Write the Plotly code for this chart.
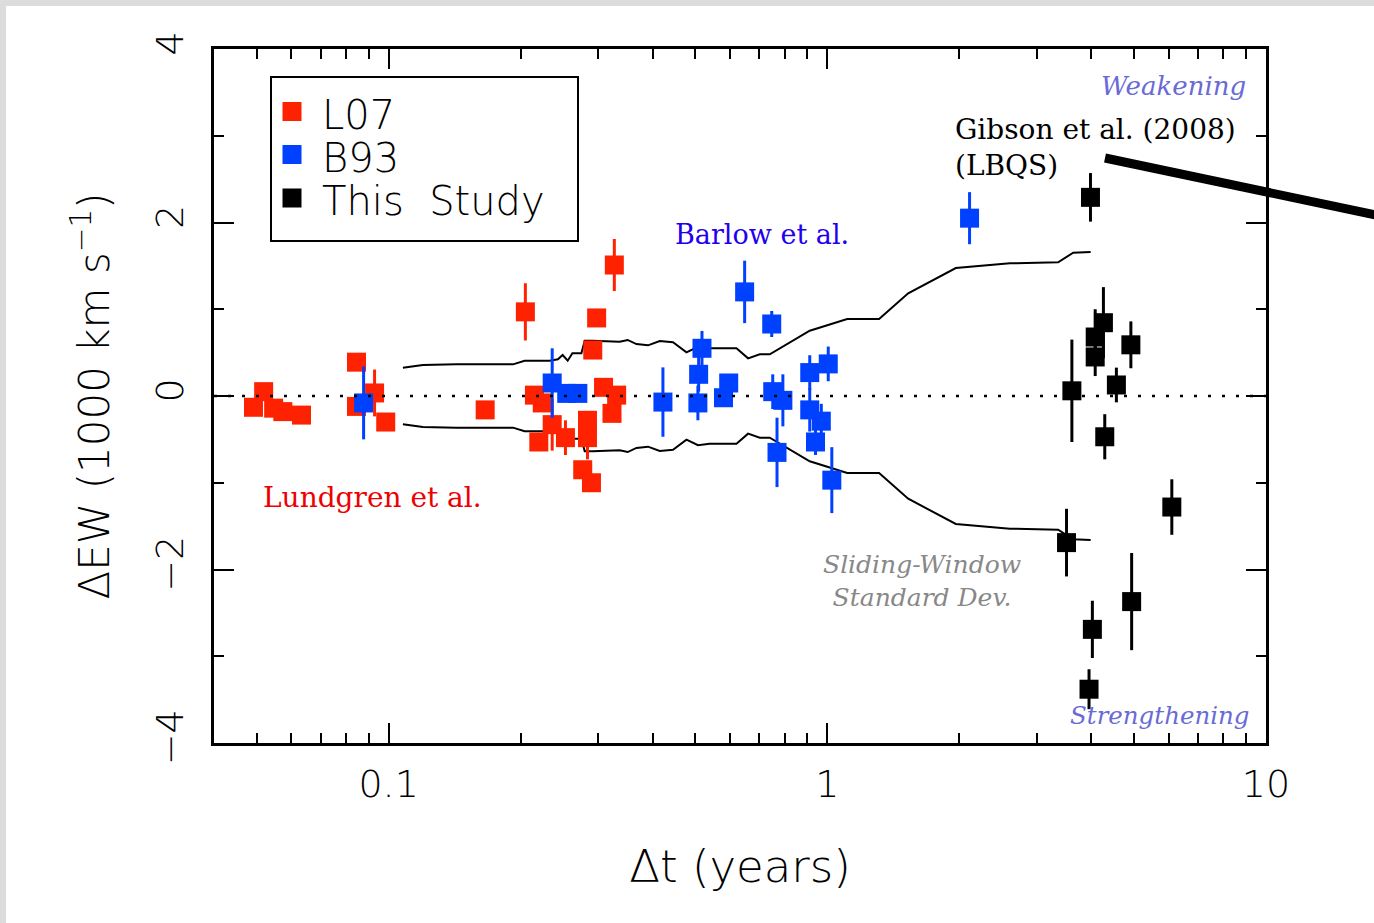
import plotly.graph_objects as go

# ---------------- data ----------------
l07_dt = [0.0492, 0.0519, 0.0547, 0.0574, 0.0633, 0.0845, 0.0845, 0.0929, 0.0985, 0.166,
          0.205, 0.215, 0.224, 0.220, 0.236, 0.253, 0.277, 0.290, 0.284, 0.284,
          0.292, 0.298, 0.327, 0.309, 0.331, 0.323]
l07_dew = [-0.13, 0.05, -0.14, -0.18, -0.22, 0.39, -0.12, 0.035, -0.30, -0.16,
           0.97, 0.01, -0.08, -0.53, -0.33, -0.48, -0.85, -1.00, -0.48, -0.28,
           0.53, 0.90, 1.51, 0.10, 0.01, -0.20]
l07_err = [0.08, 0.06, 0.06, 0.05, 0.10, 0.06, 0.06, 0.27, 0.05, 0.05,
           0.33, 0.10, 0.08, 0.05, 0.30, 0.20, 0.10, 0.08, 0.25, 0.10,
           0.05, 0.05, 0.30, 0.05, 0.10, 0.05]

b93_dt = [0.0877, 0.236, 0.2547, 0.270, 0.422, 0.518, 0.509, 0.507, 0.596, 0.580,
          0.648, 0.747, 0.751, 0.792, 0.768, 0.912, 1.005, 0.912, 0.969, 0.940,
          1.024, 2.11]
b93_dew = [-0.08, 0.15, 0.03, 0.03, -0.07, 0.55, 0.25, -0.08, 0.15, -0.02,
           1.20, 0.83, 0.05, -0.05, -0.65, 0.27, 0.37, -0.16, -0.29, -0.53,
           -0.97, 2.05]
b93_err = [0.42, 0.40, 0.05, 0.05, 0.40, 0.20, 0.20, 0.20, 0.05, 0.10,
           0.36, 0.15, 0.20, 0.30, 0.40, 0.20, 0.20, 0.25, 0.20, 0.15,
           0.38, 0.30]

this_dt = [3.98, 4.26, 4.08, 4.08, 4.92, 4.56, 3.61, 4.29, 6.10, 3.51, 4.94, 4.02, 3.95]
this_dew = [2.29, 0.845, 0.68, 0.45, 0.59, 0.127, 0.06, -0.47, -1.28, -1.69, -2.37, -2.69, -3.38]
this_err = [0.28, 0.41, 0.32, 0.22, 0.27, 0.20, 0.59, 0.26, 0.32, 0.39, 0.56, 0.33, 0.23]

sw_dt = [0.1078, 0.1197, 0.1427, 0.1699, 0.1921, 0.2042, 0.2329, 0.2432, 0.2493, 0.2560,
         0.2624, 0.2751, 0.2799, 0.2918, 0.3363, 0.3508, 0.3672, 0.3902, 0.4150, 0.4449,
         0.4775, 0.5073, 0.5395, 0.6208, 0.6598, 0.7016, 0.7395, 0.912, 1.110, 1.3124,
         1.529, 1.963, 2.608, 3.359, 3.635, 3.984]
sw_sigma = [0.326, 0.357, 0.365, 0.369, 0.365, 0.407, 0.407, 0.423, 0.473, 0.407,
            0.492, 0.492, 0.637, 0.637, 0.626, 0.646, 0.599, 0.584, 0.634, 0.619,
            0.504, 0.568, 0.550, 0.550, 0.434, 0.480, 0.480, 0.752, 0.887, 0.887,
            1.184, 1.475, 1.529, 1.541, 1.652, 1.660]

x_tickvals = [0.1, 1, 10]
x_ticktext = ["0.1", "1", "10"]
y_tickvals = [-4, -2, 0, 2, 4]
y_ticktext = ["\u22124", "\u22122", "0", "2", "4"]

series_names = ["L07", "B93", "This Study"]
series_colors = ["#ff2200", "#0040ff", "#000000"]

# ---------------- layout helpers (pixel -> paper) ----------------
L, R, T, B = 214, 1266, 49, 743
def px(x):
    return (x - L) / (R - L)
def py(y):
    return (B - y) / (B - T)

SERIF = "DejaVu Serif, Liberation Serif, serif"
SANS = "DejaVu Sans ExtraLight, DejaVu Sans Light, DejaVu Sans, Liberation Sans, sans-serif"

fig = go.Figure()

# sliding-window standard deviation curves
fig.add_trace(go.Scatter(x=sw_dt, y=sw_sigma, mode="lines",
                         line=dict(color="black", width=2), showlegend=False, hoverinfo="skip"))
fig.add_trace(go.Scatter(x=sw_dt, y=[-s for s in sw_sigma], mode="lines",
                         line=dict(color="black", width=2), showlegend=False, hoverinfo="skip"))

for name, color, xs, ys, es in zip(series_names, series_colors,
                                   [l07_dt, b93_dt, this_dt],
                                   [l07_dew, b93_dew, this_dew],
                                   [l07_err, b93_err, this_err]):
    fig.add_trace(go.Scatter(
        x=xs, y=ys, mode="markers", name=name,
        marker=dict(symbol="square", size=19, color=color, line=dict(width=0)),
        error_y=dict(type="data", array=es, visible=True, color=color, thickness=3, width=0),
        showlegend=False,
    ))

tickfont = dict(family=SANS, size=38, color="black")

fig.update_xaxes(
    type="log", range=[-1.398, 1.0],
    tickvals=x_tickvals, ticktext=x_ticktext,
    ticks="inside", ticklen=20, tickwidth=2, tickcolor="black",
    minor=dict(ticks="inside", ticklen=10, tickwidth=2, tickcolor="black", dtick="D1", showgrid=False),
    showline=True, linewidth=2.5, linecolor="black", mirror="ticks",
    showgrid=False, zeroline=False,
    tickfont=tickfont, ticklabelstandoff=6,
    title=dict(text="\u0394t (years)", font=dict(family=SANS, size=45, color="black"), standoff=46),
)
fig.update_yaxes(
    range=[-4, 4],
    tickvals=y_tickvals, ticktext=y_ticktext, tickangle=-90,
    ticks="inside", ticklen=20, tickwidth=2, tickcolor="black",
    minor=dict(ticks="inside", ticklen=10, tickwidth=2, tickcolor="black", dtick=1, showgrid=False),
    showline=True, linewidth=2.5, linecolor="black", mirror="ticks",
    showgrid=False, zeroline=False,
    tickfont=tickfont, ticklabelstandoff=13,
    title=dict(text="\u0394EW (1000 km s<sup>\u22121</sup>)", font=dict(family=SANS, size=42, color="black"), standoff=26),
)

shapes = [
    # white page over light-gray frame
    dict(type="rect", xref="paper", yref="paper", x0=px(6), x1=px(1400), y0=py(950), y1=py(6),
         fillcolor="white", line=dict(width=0), layer="below"),
    # dotted zero line
    dict(type="line", xref="paper", yref="y", x0=0, x1=1, y0=0, y1=0,
         line=dict(color="black", width=2.5, dash="3px,11px")),
    # legend box
    dict(type="rect", xref="paper", yref="paper", x0=px(271), x1=px(578), y0=py(241), y1=py(77),
         fillcolor="white", line=dict(color="black", width=2)),
    # Gibson pointer
    dict(type="line", xref="paper", yref="paper", x0=px(1105), y0=py(158), x1=px(1390), y1=py(218),
         line=dict(color="black", width=9)),
]
leg_y = [111.5, 154.5, 198]
for c, yy in zip(series_colors, leg_y):
    shapes.append(dict(type="rect", xref="paper", yref="paper",
                       x0=px(282.5), x1=px(301.5), y0=py(yy + 9.5), y1=py(yy - 9.5),
                       fillcolor=c, line=dict(width=0)))

annotations = []
for name, yy in zip(series_names, [115, 158, 201]):
    annotations.append(dict(text=name.replace(" ", "\u00a0\u00a0"), xref="paper", yref="paper", x=px(320), y=py(yy),
                            xanchor="left", yanchor="middle", showarrow=False,
                            font=dict(family=SANS, size=40, color="black")))

annotations += [
    dict(text="Lundgren et al.", xref="paper", yref="paper", x=px(372), y=py(497),
         xanchor="center", yanchor="middle", showarrow=False,
         font=dict(family=SERIF, size=28, color="#ee0000")),
    dict(text="Barlow et al.", xref="paper", yref="paper", x=px(762), y=py(234),
         xanchor="center", yanchor="middle", showarrow=False,
         font=dict(family=SERIF, size=27, color="#2200ee")),
    dict(text="Gibson et al. (2008)<br>(LBQS)", xref="paper", yref="paper", x=px(953), y=py(147.5),
         xanchor="left", yanchor="middle", align="left", showarrow=False,
         font=dict(family=SERIF, size=28, color="black")),
    dict(text="<i>Weakening</i>", xref="paper", yref="paper", x=px(1248), y=py(86),
         xanchor="right", yanchor="middle", showarrow=False,
         font=dict(family=SERIF, size=26, color="#6a6ad6")),
    dict(text="<i>Strengthening</i>", xref="paper", yref="paper", x=px(1252), y=py(715),
         xanchor="right", yanchor="middle", showarrow=False,
         font=dict(family=SERIF, size=24.5, color="#6a6ad6")),
    dict(text="<i>Sliding-Window<br>Standard Dev.</i>", xref="paper", yref="paper", x=px(922), y=py(581),
         xanchor="center", yanchor="middle", align="center", showarrow=False,
         font=dict(family=SERIF, size=25, color="#888888")),
]

fig.update_layout(
    width=1374, height=923,
    margin=dict(l=L, r=1374 - R, t=T, b=923 - B, autoexpand=False),
    paper_bgcolor="#dcdcdc", plot_bgcolor="white",
    shapes=shapes, annotations=annotations, showlegend=False,
)

fig.write_html("out.html")
